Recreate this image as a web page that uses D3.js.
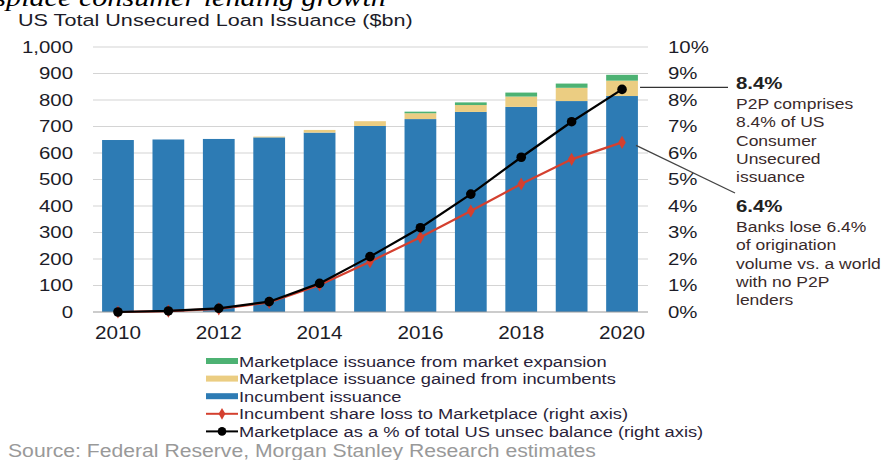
<!DOCTYPE html>
<html>
<head>
<meta charset="utf-8">
<script src="https://cdn.jsdelivr.net/npm/d3@7/dist/d3.min.js"></script>
<style>
  html, body { margin: 0; padding: 0; background: #fff; }
  svg { display: block; font-family: "Liberation Sans", Arial, sans-serif; }
</style>
</head>
<body>
<svg id="chart" width="885" height="460"></svg>
<script>
// Data ($bn, and % of total for the right axis)
const years = ["2010","2011","2012","2013","2014","2015","2016","2017","2018","2019","2020"];
const incumbent = [649, 651, 653, 659, 677, 702, 728, 755, 774, 796, 815];
const gainedFromIncumbents = [0, 0, 0, 3, 10, 18, 22, 26, 39, 50, 58];
const marketExpansion = [0, 0, 0, 0, 0, 0, 6, 10, 15, 16, 22];
const shareLoss = [0, 0.03, 0.12, 0.36, 1.02, 1.90, 2.82, 3.81, 4.83, 5.76, 6.4];
const marketplacePct = [0, 0.04, 0.14, 0.39, 1.08, 2.09, 3.18, 4.45, 5.84, 7.18, 8.4];
const leftTicks = [0, 100, 200, 300, 400, 500, 600, 700, 800, 900, 1000];
const rightTicks = [0, 1, 2, 3, 4, 5, 6, 7, 8, 9, 10];
const xTickYears = ["2010","2012","2014","2016","2018","2020"];

const colors = {
  incumbent: "#2d7bb4",
  gained: "#ebcd82",
  expansion: "#4db273",
  red: "#d4402f",
  black: "#000"
};
const textColor = "#1c1c28";
const SX = 1.2; // horizontal widening applied to the sans-serif labels

const svg = d3.select("#chart");

const x = d3.scaleBand().domain(years).range([92, 648]).paddingInner(0.37).paddingOuter(0.2);
const y = d3.scaleLinear().domain([0, 1000]).range([312, 47]);
const y2 = d3.scaleLinear().domain([0, 10]).range([312, 47]);

// Places a text at (px, py) and widens it horizontally around that point
function wideText(parent, px, py, str, sx = SX) {
  return parent.append("text")
    .attr("transform", `translate(${px},${py}) scale(${sx},1)`)
    .text(str);
}

// Heading cut off at the top edge
wideText(svg, -14, 6, "isplace consumer lending growth", 1.16)
  .attr("font-family", "'Liberation Serif', 'Times New Roman', serif")
  .attr("font-style", "italic")
  .attr("font-size", 26)
  .attr("fill", "#000");

// Title
wideText(svg, 18, 26, "US Total Unsecured Loan Issuance ($bn)", 1.31)
  .attr("font-size", 16.5)
  .attr("fill", textColor);

// Gridlines
svg.append("g")
  .selectAll("line")
  .data(leftTicks.filter(d => d > 0))
  .join("line")
  .attr("x1", 93).attr("x2", 648)
  .attr("y1", d => y(d)).attr("y2", d => y(d))
  .attr("stroke", "#d4d4d4").attr("stroke-width", 1.2);

// Left axis
const leftAxis = svg.append("g")
  .attr("transform", "translate(93,0)")
  .call(d3.axisLeft(y).tickValues(leftTicks).tickFormat(d3.format(",")).tickSize(0).tickPadding(20 / SX));
leftAxis.select(".domain").remove();
leftAxis.selectAll("text")
  .attr("font-size", 17).attr("fill", textColor).attr("font-family", null)
  .attr("transform", `scale(${SX},1)`);

// Right axis
const rightAxis = svg.append("g")
  .attr("transform", "translate(648,0)")
  .call(d3.axisRight(y2).tickValues(rightTicks).tickFormat(d => d + "%").tickSize(0).tickPadding(20 / SX));
rightAxis.select(".domain").remove();
rightAxis.selectAll("text")
  .attr("font-size", 17).attr("fill", textColor).attr("font-family", null)
  .attr("transform", `scale(${SX},1)`);

// Stacked bars
const rows = years.map((yr, i) => ({
  year: yr,
  incumbent: incumbent[i],
  gained: gainedFromIncumbents[i],
  expansion: marketExpansion[i]
}));
const stack = d3.stack().keys(["incumbent", "gained", "expansion"])(rows);
svg.append("g")
  .selectAll("g")
  .data(stack)
  .join("g")
  .attr("fill", d => colors[d.key])
  .selectAll("rect")
  .data(d => d)
  .join("rect")
  .attr("x", d => x(d.data.year))
  .attr("width", x.bandwidth())
  .attr("y", d => y(d[1]))
  .attr("height", d => y(d[0]) - y(d[1]));

// Baseline
svg.append("line")
  .attr("x1", 93).attr("x2", 648)
  .attr("y1", y(0)).attr("y2", y(0))
  .attr("stroke", "#999").attr("stroke-width", 1.2);

// X axis labels
const xAxis = svg.append("g")
  .attr("transform", `translate(0,${y(0)})`)
  .call(d3.axisBottom(x).tickValues(xTickYears).tickSize(0).tickPadding(14));
xAxis.select(".domain").remove();
xAxis.selectAll("text")
  .attr("font-size", 18).attr("fill", textColor).attr("font-family", null)
  .attr("transform", `scale(1.15,1)`);

// Lines (right axis)
const cx = i => x(years[i]) + x.bandwidth() / 2;
const lineGen = d3.line().x((d, i) => cx(i)).y(d => y2(d));

svg.append("path").datum(shareLoss)
  .attr("d", lineGen).attr("fill", "none")
  .attr("stroke", colors.red).attr("stroke-width", 2.2);
svg.append("g").selectAll("path").data(shareLoss).join("path")
  .attr("d", d3.symbol(d3.symbolDiamond, 50))
  .attr("transform", (d, i) => `translate(${cx(i)},${y2(d)})`)
  .attr("fill", colors.red);

svg.append("path").datum(marketplacePct)
  .attr("d", lineGen).attr("fill", "none")
  .attr("stroke", colors.black).attr("stroke-width", 2.2);
svg.append("g").selectAll("circle").data(marketplacePct).join("circle")
  .attr("cx", (d, i) => cx(i)).attr("cy", d => y2(d)).attr("r", 4.8)
  .attr("fill", colors.black);

// Callouts
const last = years.length - 1;
svg.append("line")
  .attr("x1", cx(last) + 18).attr("y1", y2(marketplacePct[last]) - 2)
  .attr("x2", 728).attr("y2", y2(marketplacePct[last]) - 2)
  .attr("stroke", "#333").attr("stroke-width", 1.3);
svg.append("line")
  .attr("x1", cx(last) + 14).attr("y1", y2(shareLoss[last]) + 3)
  .attr("x2", 735).attr("y2", 193)
  .attr("stroke", "#444").attr("stroke-width", 1.3);

function callout(x0, yTop, head, lines) {
  const g = svg.append("g");
  wideText(g, x0, yTop, head)
    .attr("font-size", 17).attr("font-weight", "bold").attr("fill", "#222");
  lines.forEach((t, i) => {
    wideText(g, x0, yTop + 20 + i * 18.3, t, 1.13)
      .attr("font-size", 15.5).attr("fill", "#3a2a2a");
  });
}
callout(736, 89, marketplacePct[last].toFixed(1) + "%",
  ["P2P comprises", "8.4% of US", "Consumer", "Unsecured", "issuance"]);
callout(736, 212, shareLoss[last].toFixed(1) + "%",
  ["Banks lose 6.4%", "of origination", "volume vs. a world", "with no P2P", "lenders"]);

// Legend
const legendItems = [
  { label: "Marketplace issuance from market expansion", type: "bar", color: colors.expansion },
  { label: "Marketplace issuance gained from incumbents", type: "bar", color: colors.gained },
  { label: "Incumbent issuance", type: "bar", color: colors.incumbent },
  { label: "Incumbent share loss to Marketplace (right axis)", type: "diamond", color: colors.red },
  { label: "Marketplace as a % of total US unsec balance (right axis)", type: "circle", color: colors.black }
];
const legend = svg.append("g");
legendItems.forEach((it, i) => {
  const ly = 361 + i * 17.6;
  if (it.type === "bar") {
    legend.append("rect").attr("x", 206).attr("y", ly - 3).attr("width", 32).attr("height", 6).attr("fill", it.color);
  } else {
    legend.append("line").attr("x1", 206).attr("x2", 238).attr("y1", ly).attr("y2", ly)
      .attr("stroke", it.color).attr("stroke-width", 2);
    if (it.type === "diamond") {
      legend.append("path").attr("d", d3.symbol(d3.symbolDiamond, 40)).attr("transform", `translate(222,${ly})`).attr("fill", it.color);
    } else {
      legend.append("circle").attr("cx", 222).attr("cy", ly).attr("r", 4.3).attr("fill", it.color);
    }
  }
  wideText(legend, 239, ly + 5.5, it.label, 1.18)
    .attr("font-size", 15.5).attr("fill", "#2a1f3a");
});

// Source
wideText(svg, 8, 457, "Source: Federal Reserve, Morgan Stanley Research estimates", 1.21)
  .attr("font-size", 17.5).attr("fill", "#999");
</script>
</body>
</html>
